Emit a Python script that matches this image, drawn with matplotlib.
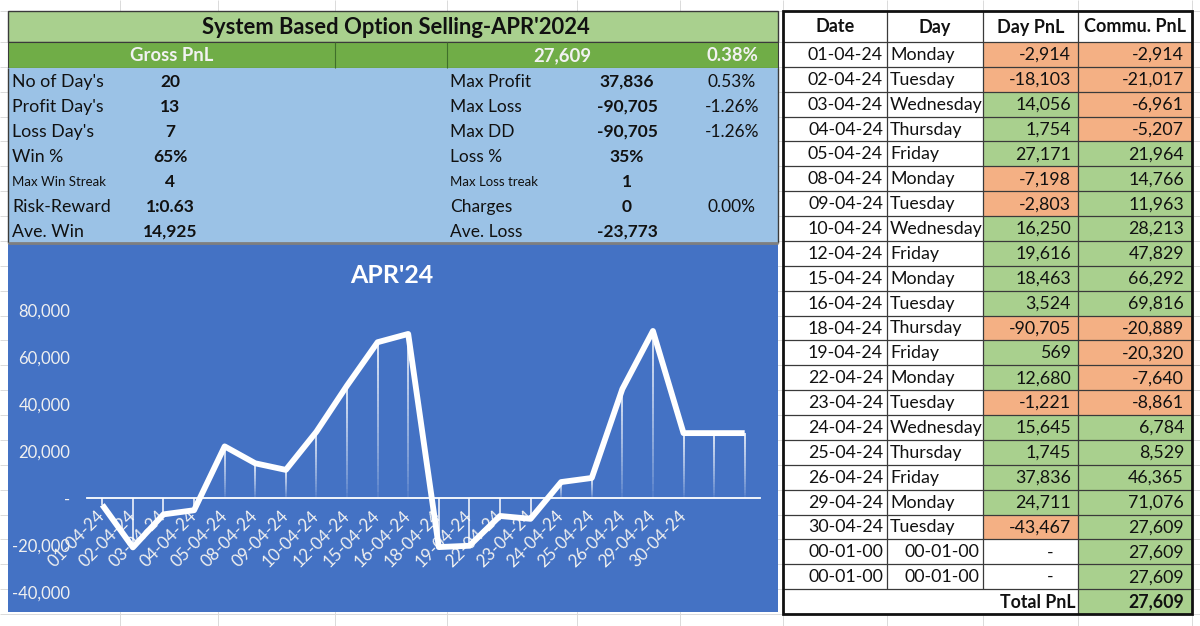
import matplotlib
matplotlib.use('Agg')
import matplotlib.pyplot as plt
from matplotlib.patches import Rectangle
from matplotlib.collections import LineCollection
from matplotlib.ticker import FuncFormatter
import numpy as np

plt.rcParams['font.family'] = ['Lato', 'DejaVu Sans']

# ---------------- data ----------------
title = "System Based Option Selling-APR'2024"
gross_label = "Gross PnL"
gross_value = "27,609"
gross_pct = "0.38%"

left_labels = ["No of Day's", "Profit Day's", "Loss Day's", "Win %", "Max Win Streak", "Risk-Reward", "Ave. Win"]
left_values = ["20", "13", "7", "65%", "4", "1:0.63", "14,925"]
right_labels = ["Max Profit", "Max Loss", "Max DD", "Loss %", "Max Loss treak", "Charges", "Ave. Loss"]
right_values = ["37,836", "-90,705", "-90,705", "35%", "1", "0", "-23,773"]
right_pcts = ["0.53%", "-1.26%", "-1.26%", "", "", "0.00%", ""]

dates = ["01-04-24", "02-04-24", "03-04-24", "04-04-24", "05-04-24", "08-04-24", "09-04-24",
         "10-04-24", "12-04-24", "15-04-24", "16-04-24", "18-04-24", "19-04-24", "22-04-24",
         "23-04-24", "24-04-24", "25-04-24", "26-04-24", "29-04-24", "30-04-24"]
days = ["Monday", "Tuesday", "Wednesday", "Thursday", "Friday", "Monday", "Tuesday",
        "Wednesday", "Friday", "Monday", "Tuesday", "Thursday", "Friday", "Monday",
        "Tuesday", "Wednesday", "Thursday", "Friday", "Monday", "Tuesday"]
day_pnl = [-2914, -18103, 14056, 1754, 27171, -7198, -2803, 16250, 19616, 18463, 3524,
           -90705, 569, 12680, -1221, 15645, 1745, 37836, 24711, -43467]
cum_pnl = [-2914, -21017, -6961, -5207, 21964, 14766, 11963, 28213, 47829, 66292, 69816,
           -20889, -20320, -7640, -8861, 6784, 8529, 46365, 71076, 27609, 27609, 27609]
blank_dates = ["00-01-00", "00-01-00"]
total_label = "Total PnL"
total_value = 27609

chart_title = "APR'24"
y_ticks = [-40000, -20000, 0, 20000, 40000, 60000, 80000]
headers = ["Date", "Day", "Day PnL", "Commu. PnL"]

# ---------------- colours ----------------
C_LGREEN = '#A9D08E'
C_DGREEN = '#70AD47'
C_LBLUE = '#9BC2E6'
C_CHART = '#4472C4'
C_ORANGE = '#F4B084'
C_GRID = '#DADADA'
C_BORDER = '#3A3A3A'

W, H = 1200, 626
fig = plt.figure(figsize=(12, 6.26), dpi=100)
bg = fig.add_axes([0, 0, 1, 1])
bg.set_xlim(0, W)
bg.set_ylim(H, 0)
bg.axis('off')


def rect(x0, y0, x1, y1, fc, ec='none', lw=0, z=1):
    bg.add_patch(Rectangle((x0, y0), x1 - x0, y1 - y0, facecolor=fc, edgecolor=ec, linewidth=lw, zorder=z))


def hline(y, x0, x1, c=C_BORDER, lw=0.8, z=3):
    bg.plot([x0, x1], [y, y], color=c, lw=lw, zorder=z, solid_capstyle='butt')


def vline(x, y0, y1, c=C_BORDER, lw=0.8, z=3):
    bg.plot([x, x], [y0, y1], color=c, lw=lw, zorder=z, solid_capstyle='butt')


# excel gridlines in background
col_edges = [783, 887, 983, 1078, 1192]
row_top, head_bot, tbl_bot = 11, 42, 614
n_rows = len(dates) + len(blank_dates) + 1
row_h = (tbl_bot - head_bot) / n_rows
for gx in [120, 218, 335, 447, 577, 680] + col_edges:
    vline(gx, 0, H, c=C_GRID, lw=0.7, z=0)
for k in range(n_rows + 1):
    hline(head_bot + k * row_h, 0, W, c=C_GRID, lw=0.7, z=0)
hline(row_top, 0, W, c=C_GRID, lw=0.7, z=0)

# ---------------- left panel ----------------
LX0, LX1 = 8, 778
rect(LX0, row_top, LX1, head_bot, C_LGREEN, ec=C_BORDER, lw=1, z=2)
bg.text(396, 27, title, ha='center', va='center', fontsize=15.8, fontweight='bold', color='#111111', zorder=5)

rect(LX0, head_bot, LX1, 68, C_DGREEN, ec=C_BORDER, lw=0.8, z=2)
vline(335, head_bot, 68, c='#3F6F2A', lw=0.8)
vline(447, head_bot, 68, c='#3F6F2A', lw=0.8)
bg.text(172, 55.5, gross_label, ha='center', va='center', fontsize=13.3, fontweight='bold', color='#F2F2F2', zorder=5)
bg.text(562, 55.5, gross_value, ha='center', va='center', fontsize=13.3, fontweight='bold', color='#F2F2F2', zorder=5)
bg.text(732, 55.5, gross_pct, ha='center', va='center', fontsize=13.3, fontweight='bold', color='#F2F2F2', zorder=5)

SY0, SY1 = 68, 243
rect(LX0, SY0, LX1, SY1, C_LBLUE, z=2)
vline(LX0, SY0, SY1, c=C_BORDER, lw=1)
vline(LX1, SY0, SY1, c=C_BORDER, lw=1)
hline(SY1, LX0, LX1, c='#7F7F7F', lw=2)
srow = (SY1 - SY0) / len(left_labels)
for i in range(len(left_labels)):
    yc = SY0 + (i + 0.55) * srow
    fs_lab = 9.5 if 'Streak' in left_labels[i] else 12.8
    bg.text(12, yc, left_labels[i], ha='left', va='center', fontsize=fs_lab, color='#111111', zorder=5)
    bg.text(170, yc, left_values[i], ha='center', va='center', fontsize=12.5, fontweight='bold', color='#111111', zorder=5)
    fs_lab = 9.5 if 'treak' in right_labels[i] else 12.5
    bg.text(450, yc, right_labels[i], ha='left', va='center', fontsize=fs_lab, color='#111111', zorder=5)
    bg.text(627, yc, right_values[i], ha='center', va='center', fontsize=12.5, fontweight='bold', color='#111111', zorder=5)
    bg.text(732, yc, right_pcts[i], ha='center', va='center', fontsize=12.5, color='#111111', zorder=5)

# chart background
CY0, CY1 = 244, 612
rect(LX0, CY0, LX1, CY1, C_CHART, z=2)

# ---------------- chart ----------------
PX0, PX1 = 87, 760
PY_TOP, PY_BOT = 310, 592
ax = fig.add_axes([PX0 / W, (H - PY_BOT) / H, (PX1 - PX0) / W, (PY_BOT - PY_TOP) / H])
ax.patch.set_alpha(0)
xs = np.arange(len(cum_pnl))
ax.set_xlim(-0.5, len(cum_pnl) - 0.5)
ax.set_ylim(y_ticks[0], y_ticks[-1])

# drop lines with fade toward the axis
segs, cols = [], []
nseg = 24
for x, y in zip(xs, cum_pnl):
    for k in range(nseg):
        ya = y * (1 - k / nseg)
        yb = y * (1 - (k + 1) / nseg)
        segs.append([(x, ya), (x, yb)])
        a = 0.95 * (1 - k / nseg) ** 0.7 if y > 0 else 0.9
        cols.append((1, 1, 1, a))
ax.add_collection(LineCollection(segs, colors=cols, linewidths=1.2, zorder=2))

ax.plot(xs, cum_pnl, color='white', lw=4.2, solid_joinstyle='round', solid_capstyle='butt', zorder=4)

for s in ['top', 'right', 'left']:
    ax.spines[s].set_visible(False)
ax.spines['bottom'].set_position(('data', 0))
ax.spines['bottom'].set_color('white')
ax.spines['bottom'].set_linewidth(1.3)
ax.spines['bottom'].set_zorder(3)

ax.set_yticks(y_ticks)
ax.yaxis.set_major_formatter(FuncFormatter(lambda v, p: '-' if v == 0 else f"{v:,.0f}"))
ax.tick_params(axis='y', length=0, pad=12, labelsize=12, labelcolor='#F0F0F0')
ax.set_xticks(xs)
ax.set_xticklabels(dates + [''] * (len(cum_pnl) - len(dates)))
ax.tick_params(axis='x', length=0, pad=11, labelsize=12.3, labelcolor='#F0F0F0')
for lab in ax.get_xticklabels():
    lab.set_rotation(45)
    lab.set_ha('right')
    lab.set_va('center')
    lab.set_rotation_mode('anchor')

fig.text(392 / W, 1 - 276 / H, chart_title, ha='center', va='center', fontsize=18, fontweight='bold', color='white')

# ---------------- right table ----------------
TX0, TX1 = col_edges[0], col_edges[-1]
rect(TX0, row_top, TX1, tbl_bot, 'white', z=1)
hc = [(col_edges[i] + col_edges[i + 1]) / 2 for i in range(4)]
for i, hd in enumerate(headers):
    bg.text(hc[i], 27, hd, ha='center', va='center', fontsize=13, fontweight='bold', color='#111111', zorder=5)


def fmt(v):
    return f"{v:,}"


def cell_color(v):
    return C_ORANGE if v < 0 else C_LGREEN


fs_t = 12.8
r = 0
for i in range(len(dates)):
    y0 = head_bot + r * row_h
    y1 = y0 + row_h
    yc = (y0 + y1) / 2 + 0.5
    rect(col_edges[2], y0, col_edges[3], y1, cell_color(day_pnl[i]), z=2)
    rect(col_edges[3], y0, col_edges[4], y1, cell_color(cum_pnl[i]), z=2)
    bg.text(col_edges[1] - 4, yc, dates[i], ha='right', va='center', fontsize=fs_t, color='#111111', zorder=5)
    bg.text(col_edges[1] + 3, yc, days[i], ha='left', va='center', fontsize=fs_t, color='#111111', zorder=5)
    bg.text(col_edges[3] - 7, yc, fmt(day_pnl[i]), ha='right', va='center', fontsize=fs_t, color='#111111', zorder=5)
    bg.text(col_edges[4] - 8, yc, fmt(cum_pnl[i]), ha='right', va='center', fontsize=fs_t, color='#111111', zorder=5)
    r += 1
for j in range(len(blank_dates)):
    y0 = head_bot + r * row_h
    y1 = y0 + row_h
    yc = (y0 + y1) / 2 + 0.5
    cv = cum_pnl[len(dates) + j]
    rect(col_edges[3], y0, col_edges[4], y1, cell_color(cv), z=2)
    bg.text(col_edges[1] - 4, yc, blank_dates[j], ha='right', va='center', fontsize=fs_t, color='#111111', zorder=5)
    bg.text(col_edges[2] - 4, yc, blank_dates[j], ha='right', va='center', fontsize=fs_t, color='#111111', zorder=5)
    bg.text(col_edges[3] - 28, yc, '-', ha='center', va='center', fontsize=fs_t, color='#111111', zorder=5)
    bg.text(col_edges[4] - 8, yc, fmt(cv), ha='right', va='center', fontsize=fs_t, color='#111111', zorder=5)
    r += 1
# total row
y0 = head_bot + r * row_h
y1 = tbl_bot
yc = (y0 + y1) / 2 + 0.5
rect(col_edges[3], y0, col_edges[4], y1, cell_color(total_value), z=2)
bg.text(col_edges[3] - 3, yc, total_label, ha='right', va='center', fontsize=fs_t, fontweight='bold', color='#111111', zorder=5)
bg.text(col_edges[4] - 8, yc, fmt(total_value), ha='right', va='center', fontsize=fs_t, fontweight='bold', color='#111111', zorder=5)

# table borders
for k in range(n_rows):
    hline(head_bot + k * row_h, TX0, TX1, lw=0.9)
total_y = head_bot + (n_rows - 1) * row_h
for ci, cx in enumerate(col_edges[1:-1]):
    y_end = total_y if ci < 2 else tbl_bot
    vline(cx, row_top, y_end, lw=0.9)
bg.add_patch(Rectangle((TX0, row_top), TX1 - TX0, tbl_bot - row_top, facecolor='none',
                       edgecolor='#111111', linewidth=2, zorder=6))

fig.savefig('out.png', dpi=100)
